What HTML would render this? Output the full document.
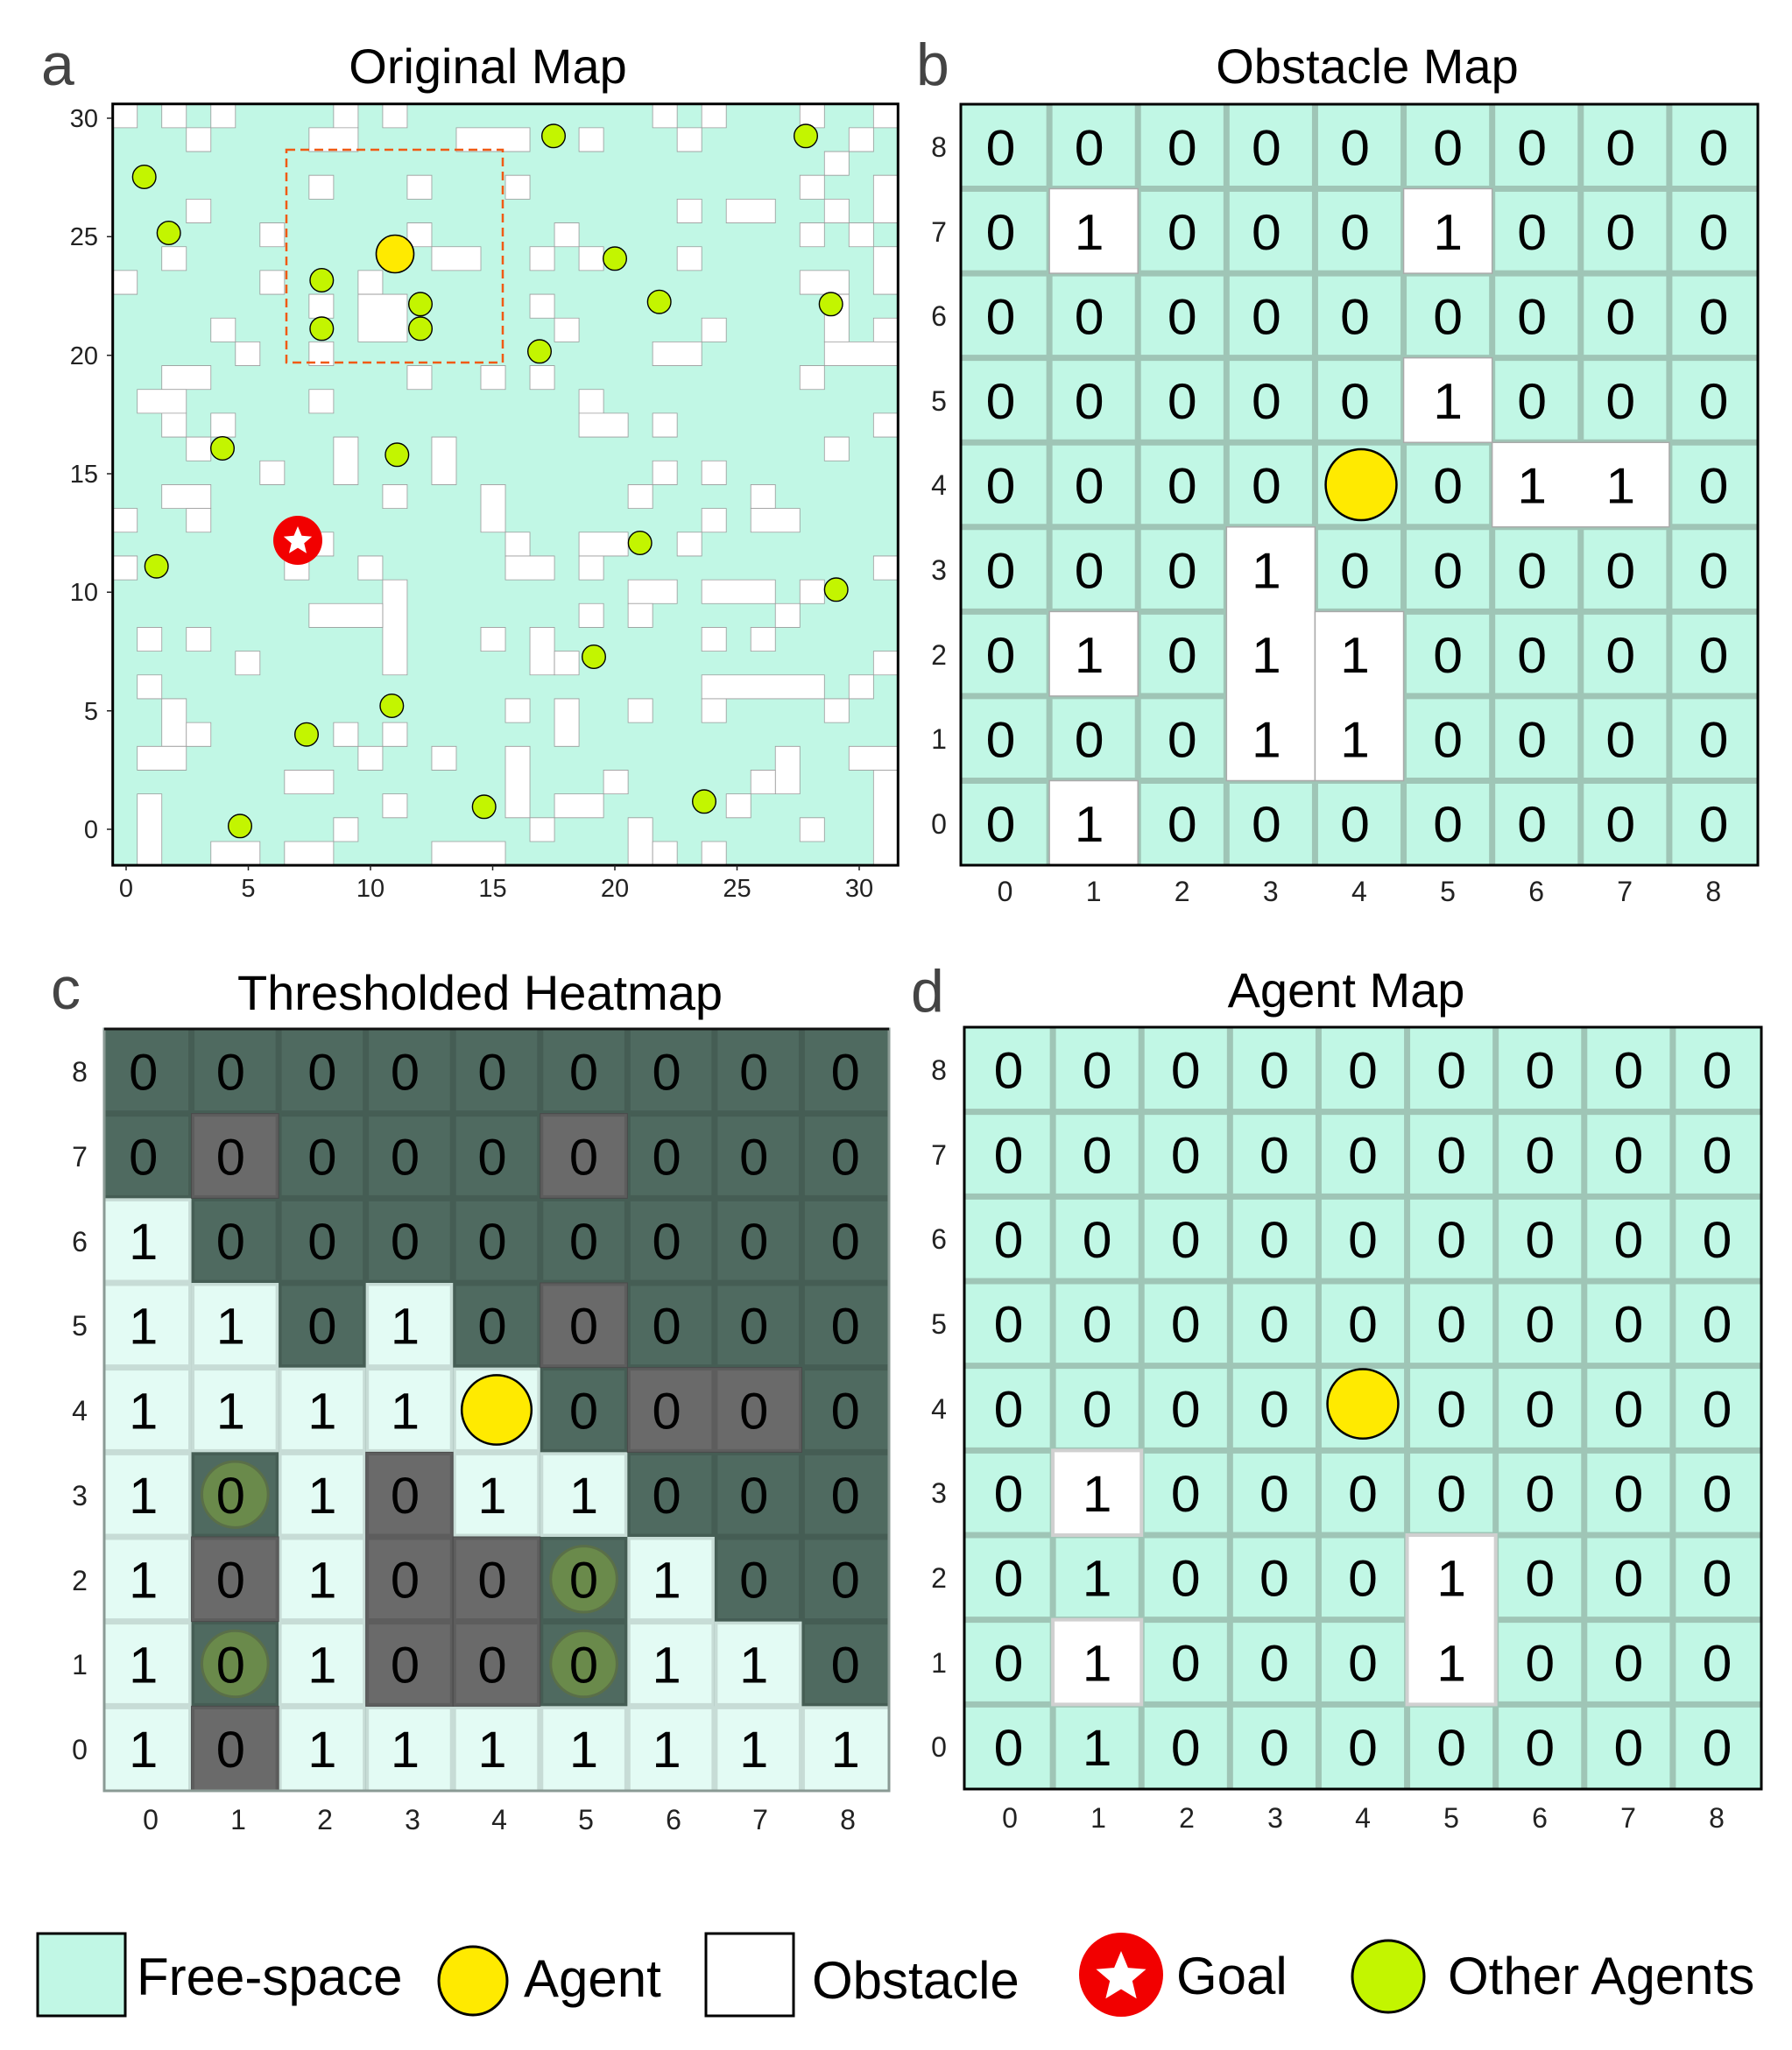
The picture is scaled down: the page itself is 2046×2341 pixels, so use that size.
<!DOCTYPE html>
<html><head><meta charset="utf-8"><style>
html,body{margin:0;padding:0;background:#fff}
svg{display:block}
text{font-family:"Liberation Sans",Arial,sans-serif}
</style></head><body>
<svg width="2046" height="2341" viewBox="0 0 2046 2341" xmlns="http://www.w3.org/2000/svg">
<defs>
<polygon id="star" points="0,-1 0.264,-0.364 0.951,-0.309 0.427,0.139 0.588,0.809 0,0.45 -0.588,0.809 -0.427,0.139 -0.951,-0.309 -0.264,-0.364"/>
</defs>
<rect width="2046" height="2341" fill="#fff"/>

<!-- ===== Panel a ===== -->
<text x="47" y="97" font-size="68" fill="#444">a</text>
<text x="557" y="95" font-size="56" text-anchor="middle" fill="#000">Original Map</text>
<rect x="128.7" y="118.7" width="896.6" height="869.4" fill="#c1f7e5"/>
<g transform="translate(128.7,118.7) scale(28.02,27.17)" fill="#fff" stroke="#9a9a9a" stroke-width="0.8">
<g>
<rect x="0" y="0" width="1" height="1" vector-effect="non-scaling-stroke"/><rect x="2" y="0" width="1" height="1" vector-effect="non-scaling-stroke"/><rect x="4" y="0" width="1" height="1" vector-effect="non-scaling-stroke"/><rect x="9" y="0" width="1" height="1" vector-effect="non-scaling-stroke"/><rect x="11" y="0" width="1" height="1" vector-effect="non-scaling-stroke"/><rect x="22" y="0" width="1" height="1" vector-effect="non-scaling-stroke"/><rect x="24" y="0" width="1" height="1" vector-effect="non-scaling-stroke"/><rect x="28" y="0" width="1" height="1" vector-effect="non-scaling-stroke"/><rect x="31" y="0" width="1" height="1" vector-effect="non-scaling-stroke"/>
<rect x="3" y="1" width="1" height="1" vector-effect="non-scaling-stroke"/><rect x="8" y="1" width="2" height="1" vector-effect="non-scaling-stroke"/><rect x="14" y="1" width="3" height="1" vector-effect="non-scaling-stroke"/><rect x="19" y="1" width="1" height="1" vector-effect="non-scaling-stroke"/><rect x="23" y="1" width="1" height="1" vector-effect="non-scaling-stroke"/><rect x="30" y="1" width="1" height="1" vector-effect="non-scaling-stroke"/>
<rect x="29" y="2" width="1" height="1" vector-effect="non-scaling-stroke"/>
<rect x="8" y="3" width="1" height="1" vector-effect="non-scaling-stroke"/><rect x="12" y="3" width="1" height="1" vector-effect="non-scaling-stroke"/><rect x="16" y="3" width="1" height="1" vector-effect="non-scaling-stroke"/><rect x="28" y="3" width="1" height="1" vector-effect="non-scaling-stroke"/><rect x="31" y="3" width="1" height="2" vector-effect="non-scaling-stroke"/>
<rect x="3" y="4" width="1" height="1" vector-effect="non-scaling-stroke"/><rect x="23" y="4" width="1" height="1" vector-effect="non-scaling-stroke"/><rect x="25" y="4" width="2" height="1" vector-effect="non-scaling-stroke"/><rect x="29" y="4" width="1" height="1" vector-effect="non-scaling-stroke"/>
<rect x="6" y="5" width="1" height="1" vector-effect="non-scaling-stroke"/><rect x="12" y="5" width="1" height="1" vector-effect="non-scaling-stroke"/><rect x="18" y="5" width="1" height="1" vector-effect="non-scaling-stroke"/><rect x="28" y="5" width="1" height="1" vector-effect="non-scaling-stroke"/><rect x="30" y="5" width="1" height="1" vector-effect="non-scaling-stroke"/>
<rect x="2" y="6" width="1" height="1" vector-effect="non-scaling-stroke"/><rect x="13" y="6" width="2" height="1" vector-effect="non-scaling-stroke"/><rect x="17" y="6" width="1" height="1" vector-effect="non-scaling-stroke"/><rect x="19" y="6" width="1" height="1" vector-effect="non-scaling-stroke"/><rect x="23" y="6" width="1" height="1" vector-effect="non-scaling-stroke"/><rect x="31" y="6" width="1" height="2" vector-effect="non-scaling-stroke"/>
<rect x="0" y="7" width="1" height="1" vector-effect="non-scaling-stroke"/><rect x="6" y="7" width="1" height="1" vector-effect="non-scaling-stroke"/><rect x="10" y="7" width="1" height="1" vector-effect="non-scaling-stroke"/><rect x="28" y="7" width="2" height="1" vector-effect="non-scaling-stroke"/>
<rect x="8" y="8" width="1" height="1" vector-effect="non-scaling-stroke"/><rect x="10" y="8" width="2" height="2" vector-effect="non-scaling-stroke"/><rect x="17" y="8" width="1" height="1" vector-effect="non-scaling-stroke"/><rect x="29" y="8" width="1" height="2" vector-effect="non-scaling-stroke"/>
<rect x="4" y="9" width="1" height="1" vector-effect="non-scaling-stroke"/><rect x="18" y="9" width="1" height="1" vector-effect="non-scaling-stroke"/><rect x="24" y="9" width="1" height="1" vector-effect="non-scaling-stroke"/><rect x="31" y="9" width="1" height="1" vector-effect="non-scaling-stroke"/>
<rect x="5" y="10" width="1" height="1" vector-effect="non-scaling-stroke"/><rect x="8" y="10" width="1" height="1" vector-effect="non-scaling-stroke"/><rect x="22" y="10" width="2" height="1" vector-effect="non-scaling-stroke"/><rect x="29" y="10" width="3" height="1" vector-effect="non-scaling-stroke"/>
<rect x="2" y="11" width="2" height="1" vector-effect="non-scaling-stroke"/><rect x="12" y="11" width="1" height="1" vector-effect="non-scaling-stroke"/><rect x="15" y="11" width="1" height="1" vector-effect="non-scaling-stroke"/><rect x="17" y="11" width="1" height="1" vector-effect="non-scaling-stroke"/><rect x="28" y="11" width="1" height="1" vector-effect="non-scaling-stroke"/>
<rect x="1" y="12" width="2" height="1" vector-effect="non-scaling-stroke"/><rect x="8" y="12" width="1" height="1" vector-effect="non-scaling-stroke"/><rect x="19" y="12" width="1" height="1" vector-effect="non-scaling-stroke"/>
<rect x="2" y="13" width="1" height="1" vector-effect="non-scaling-stroke"/><rect x="4" y="13" width="1" height="1" vector-effect="non-scaling-stroke"/><rect x="19" y="13" width="2" height="1" vector-effect="non-scaling-stroke"/><rect x="22" y="13" width="1" height="1" vector-effect="non-scaling-stroke"/><rect x="31" y="13" width="1" height="1" vector-effect="non-scaling-stroke"/>
<rect x="3" y="14" width="1" height="1" vector-effect="non-scaling-stroke"/><rect x="9" y="14" width="1" height="2" vector-effect="non-scaling-stroke"/><rect x="13" y="14" width="1" height="2" vector-effect="non-scaling-stroke"/><rect x="29" y="14" width="1" height="1" vector-effect="non-scaling-stroke"/>
<rect x="6" y="15" width="1" height="1" vector-effect="non-scaling-stroke"/><rect x="22" y="15" width="1" height="1" vector-effect="non-scaling-stroke"/><rect x="24" y="15" width="1" height="1" vector-effect="non-scaling-stroke"/>
<rect x="2" y="16" width="2" height="1" vector-effect="non-scaling-stroke"/><rect x="11" y="16" width="1" height="1" vector-effect="non-scaling-stroke"/><rect x="15" y="16" width="1" height="2" vector-effect="non-scaling-stroke"/><rect x="21" y="16" width="1" height="1" vector-effect="non-scaling-stroke"/><rect x="26" y="16" width="1" height="1" vector-effect="non-scaling-stroke"/>
<rect x="0" y="17" width="1" height="1" vector-effect="non-scaling-stroke"/><rect x="3" y="17" width="1" height="1" vector-effect="non-scaling-stroke"/><rect x="24" y="17" width="1" height="1" vector-effect="non-scaling-stroke"/><rect x="26" y="17" width="2" height="1" vector-effect="non-scaling-stroke"/>
<rect x="8" y="18" width="1" height="1" vector-effect="non-scaling-stroke"/><rect x="16" y="18" width="1" height="1" vector-effect="non-scaling-stroke"/><rect x="19" y="18" width="2" height="1" vector-effect="non-scaling-stroke"/><rect x="23" y="18" width="1" height="1" vector-effect="non-scaling-stroke"/>
<rect x="0" y="19" width="1" height="1" vector-effect="non-scaling-stroke"/><rect x="7" y="19" width="1" height="1" vector-effect="non-scaling-stroke"/><rect x="10" y="19" width="1" height="1" vector-effect="non-scaling-stroke"/><rect x="16" y="19" width="2" height="1" vector-effect="non-scaling-stroke"/><rect x="19" y="19" width="1" height="1" vector-effect="non-scaling-stroke"/><rect x="31" y="19" width="1" height="1" vector-effect="non-scaling-stroke"/>
<rect x="11" y="20" width="1" height="4" vector-effect="non-scaling-stroke"/><rect x="21" y="20" width="2" height="1" vector-effect="non-scaling-stroke"/><rect x="24" y="20" width="3" height="1" vector-effect="non-scaling-stroke"/><rect x="28" y="20" width="1" height="1" vector-effect="non-scaling-stroke"/>
<rect x="8" y="21" width="3" height="1" vector-effect="non-scaling-stroke"/><rect x="19" y="21" width="1" height="1" vector-effect="non-scaling-stroke"/><rect x="21" y="21" width="1" height="1" vector-effect="non-scaling-stroke"/><rect x="27" y="21" width="1" height="1" vector-effect="non-scaling-stroke"/>
<rect x="1" y="22" width="1" height="1" vector-effect="non-scaling-stroke"/><rect x="3" y="22" width="1" height="1" vector-effect="non-scaling-stroke"/><rect x="15" y="22" width="1" height="1" vector-effect="non-scaling-stroke"/><rect x="17" y="22" width="1" height="2" vector-effect="non-scaling-stroke"/><rect x="24" y="22" width="1" height="1" vector-effect="non-scaling-stroke"/><rect x="26" y="22" width="1" height="1" vector-effect="non-scaling-stroke"/>
<rect x="5" y="23" width="1" height="1" vector-effect="non-scaling-stroke"/><rect x="18" y="23" width="1" height="1" vector-effect="non-scaling-stroke"/><rect x="31" y="23" width="1" height="1" vector-effect="non-scaling-stroke"/>
<rect x="1" y="24" width="1" height="1" vector-effect="non-scaling-stroke"/><rect x="24" y="24" width="5" height="1" vector-effect="non-scaling-stroke"/><rect x="30" y="24" width="1" height="1" vector-effect="non-scaling-stroke"/>
<rect x="2" y="25" width="1" height="2" vector-effect="non-scaling-stroke"/><rect x="16" y="25" width="1" height="1" vector-effect="non-scaling-stroke"/><rect x="18" y="25" width="1" height="2" vector-effect="non-scaling-stroke"/><rect x="21" y="25" width="1" height="1" vector-effect="non-scaling-stroke"/><rect x="24" y="25" width="1" height="1" vector-effect="non-scaling-stroke"/><rect x="29" y="25" width="1" height="1" vector-effect="non-scaling-stroke"/>
<rect x="3" y="26" width="1" height="1" vector-effect="non-scaling-stroke"/><rect x="9" y="26" width="1" height="1" vector-effect="non-scaling-stroke"/><rect x="11" y="26" width="1" height="1" vector-effect="non-scaling-stroke"/>
<rect x="1" y="27" width="2" height="1" vector-effect="non-scaling-stroke"/><rect x="10" y="27" width="1" height="1" vector-effect="non-scaling-stroke"/><rect x="13" y="27" width="1" height="1" vector-effect="non-scaling-stroke"/><rect x="16" y="27" width="1" height="3" vector-effect="non-scaling-stroke"/><rect x="27" y="27" width="1" height="2" vector-effect="non-scaling-stroke"/><rect x="30" y="27" width="2" height="1" vector-effect="non-scaling-stroke"/>
<rect x="7" y="28" width="2" height="1" vector-effect="non-scaling-stroke"/><rect x="20" y="28" width="1" height="1" vector-effect="non-scaling-stroke"/><rect x="26" y="28" width="1" height="1" vector-effect="non-scaling-stroke"/><rect x="31" y="28" width="1" height="4" vector-effect="non-scaling-stroke"/>
<rect x="1" y="29" width="1" height="3" vector-effect="non-scaling-stroke"/><rect x="11" y="29" width="1" height="1" vector-effect="non-scaling-stroke"/><rect x="18" y="29" width="2" height="1" vector-effect="non-scaling-stroke"/><rect x="25" y="29" width="1" height="1" vector-effect="non-scaling-stroke"/>
<rect x="9" y="30" width="1" height="1" vector-effect="non-scaling-stroke"/><rect x="17" y="30" width="1" height="1" vector-effect="non-scaling-stroke"/><rect x="21" y="30" width="1" height="2" vector-effect="non-scaling-stroke"/><rect x="28" y="30" width="1" height="1" vector-effect="non-scaling-stroke"/>
<rect x="4" y="31" width="2" height="1" vector-effect="non-scaling-stroke"/><rect x="7" y="31" width="2" height="1" vector-effect="non-scaling-stroke"/><rect x="13" y="31" width="3" height="1" vector-effect="non-scaling-stroke"/><rect x="22" y="31" width="1" height="1" vector-effect="non-scaling-stroke"/><rect x="24" y="31" width="1" height="1" vector-effect="non-scaling-stroke"/>
</g></g>
<rect x="327" y="171" width="247" height="243" fill="none" stroke="#f05a14" stroke-width="2.5" stroke-dasharray="10,6"/>
<g fill="#c3f500" stroke="#000" stroke-width="1.4">
<circle cx="164.7" cy="202" r="13.3"/><circle cx="192.7" cy="266" r="13.3"/><circle cx="367.3" cy="320" r="13.3"/><circle cx="367.3" cy="375.3" r="13.3"/><circle cx="480" cy="347.3" r="13.3"/><circle cx="480" cy="375.3" r="13.3"/><circle cx="632" cy="155.3" r="13.3"/><circle cx="920" cy="155.3" r="13.3"/><circle cx="702" cy="295.3" r="13.3"/><circle cx="752.7" cy="344.7" r="13.3"/><circle cx="948.7" cy="347.3" r="13.3"/><circle cx="616" cy="401.3" r="13.3"/><circle cx="254" cy="512" r="13.3"/><circle cx="453.3" cy="519.3" r="13.3"/><circle cx="178.7" cy="646.7" r="13.3"/><circle cx="730.7" cy="620" r="13.3"/><circle cx="954.7" cy="673.3" r="13.3"/><circle cx="678" cy="750" r="13.3"/><circle cx="447.3" cy="806" r="13.3"/><circle cx="350" cy="838.7" r="13.3"/><circle cx="552.7" cy="921.3" r="13.3"/><circle cx="804" cy="915.3" r="13.3"/><circle cx="274" cy="943.3" r="13.3"/>
</g>
<circle cx="451" cy="290" r="21.5" fill="#ffea00" stroke="#000" stroke-width="1.6"/>
<circle cx="340" cy="617" r="28" fill="#f20000"/>
<use href="#star" transform="translate(340,618) scale(17)" fill="#fff"/>
<rect x="128.7" y="118.7" width="896.6" height="869.4" fill="none" stroke="#000" stroke-width="3"/>
<g font-size="29" fill="#222" text-anchor="middle">
<text x="144" y="1024">0</text><text x="283.5" y="1024">5</text><text x="423" y="1024">10</text><text x="562.5" y="1024">15</text><text x="702" y="1024">20</text><text x="841.5" y="1024">25</text><text x="981" y="1024">30</text>
</g>
<g font-size="29" fill="#222" text-anchor="end">
<text x="112" y="145">30</text><text x="112" y="280">25</text><text x="112" y="416">20</text><text x="112" y="551">15</text><text x="112" y="686">10</text><text x="112" y="822">5</text><text x="112" y="957">0</text>
</g>
<g stroke="#222" stroke-width="1.5">
<path d="M144 988v6M283.5 988v6M423 988v6M562.5 988v6M702 988v6M841.5 988v6M981 988v6M122 135h6M122 270.3h6M122 405.7h6M122 541h6M122 676.3h6M122 811.7h6M122 947h6"/>
</g>

<!-- ===== Panel b ===== -->
<text x="1046" y="97" font-size="68" fill="#444">b</text>
<text x="1561" y="95" font-size="56" text-anchor="middle" fill="#000">Obstacle Map</text>
<svg x="1097" y="119" width="910" height="869" viewBox="0 0 9 9" preserveAspectRatio="none" overflow="visible">
<rect width="9" height="9" fill="#c1f7e5"/>
<g stroke="#9fc5b6" stroke-width="7">
<path vector-effect="non-scaling-stroke" d="M1 0V9M2 0V9M3 0V9M4 0V9M5 0V9M6 0V9M7 0V9M8 0V9M0 1H9M0 2H9M0 3H9M0 4H9M0 5H9M0 6H9M0 7H9M0 8H9"/>
</g>
<g fill="#fff" stroke="#aaa" stroke-width="1.5">
<rect x="1" y="1" width="1" height="1" vector-effect="non-scaling-stroke"/><rect x="5" y="1" width="1" height="1" vector-effect="non-scaling-stroke"/><rect x="5" y="3" width="1" height="1" vector-effect="non-scaling-stroke"/><rect x="6" y="4" width="2" height="1" vector-effect="non-scaling-stroke"/><rect x="3" y="5" width="1" height="3" vector-effect="non-scaling-stroke"/><rect x="4" y="6" width="1" height="2" vector-effect="non-scaling-stroke"/><rect x="1" y="6" width="1" height="1" vector-effect="non-scaling-stroke"/><rect x="1" y="8" width="1" height="1" vector-effect="non-scaling-stroke"/>
</g>
<ellipse cx="4.52" cy="4.5" rx="0.4" ry="0.42" fill="#ffea00" stroke="#000" stroke-width="2.5" vector-effect="non-scaling-stroke"/>
<g font-size="0.6" fill="#000" text-anchor="middle">
<text x="0.45 1.45 2.5 3.45 4.45 5.5 6.45 7.45 8.5" y="0.72">000000000</text>
<text x="0.45 1.45 2.5 3.45 4.45 5.5 6.45 7.45 8.5" y="1.72">010001000</text>
<text x="0.45 1.45 2.5 3.45 4.45 5.5 6.45 7.45 8.5" y="2.72">000000000</text>
<text x="0.45 1.45 2.5 3.45 4.45 5.5 6.45 7.45 8.5" y="3.72">000001000</text>
<text x="0.45 1.45 2.5 3.45 5.5 6.45 7.45 8.5" y="4.72">00000110</text>
<text x="0.45 1.45 2.5 3.45 4.45 5.5 6.45 7.45 8.5" y="5.72">000100000</text>
<text x="0.45 1.45 2.5 3.45 4.45 5.5 6.45 7.45 8.5" y="6.72">010110000</text>
<text x="0.45 1.45 2.5 3.45 4.45 5.5 6.45 7.45 8.5" y="7.72">000110000</text>
<text x="0.45 1.45 2.5 3.45 4.45 5.5 6.45 7.45 8.5" y="8.72">010000000</text>
</g>
<rect width="9" height="9" fill="none" stroke="#000" stroke-width="3" vector-effect="non-scaling-stroke"/>
</svg>
<g font-size="32" fill="#222" text-anchor="middle">
<text x="1147.5" y="1029">0</text><text x="1248.6" y="1029">1</text><text x="1349.7" y="1029">2</text><text x="1450.8" y="1029">3</text><text x="1551.9" y="1029">4</text><text x="1653" y="1029">5</text><text x="1754.1" y="1029">6</text><text x="1855.2" y="1029">7</text><text x="1956.3" y="1029">8</text>
<text x="1072" y="179">8</text><text x="1072" y="276">7</text><text x="1072" y="372">6</text><text x="1072" y="469">5</text><text x="1072" y="565">4</text><text x="1072" y="662">3</text><text x="1072" y="759">2</text><text x="1072" y="855">1</text><text x="1072" y="952">0</text>
</g>

<!-- ===== Panel c ===== -->
<text x="58" y="1152" font-size="68" fill="#444">c</text>
<text x="548" y="1153" font-size="56" text-anchor="middle" fill="#000">Thresholded Heatmap</text>
<svg x="119" y="1175" width="896" height="870" viewBox="0 0 9 9" preserveAspectRatio="none" overflow="visible">
<rect width="9" height="9" fill="#4f6a60"/>
<g fill="#e3fbf4">
<rect x="0" y="2" width="1" height="7"/><rect x="1" y="3" width="1" height="2"/><rect x="3" y="3" width="1" height="2"/><rect x="2" y="4" width="1" height="5"/><rect x="4" y="4" width="1" height="2"/><rect x="5" y="5" width="1" height="1"/><rect x="6" y="6" width="1" height="3"/><rect x="7" y="7" width="1" height="2"/><rect x="3" y="8" width="5" height="1"/><rect x="8" y="8" width="1" height="1"/>
</g>
<g fill="#6a6a6a" stroke="#555" stroke-width="1" >
<rect x="1" y="1" width="1" height="1" vector-effect="non-scaling-stroke"/><rect x="5" y="1" width="1" height="1" vector-effect="non-scaling-stroke"/><rect x="5" y="3" width="1" height="1" vector-effect="non-scaling-stroke"/><rect x="6" y="4" width="2" height="1" vector-effect="non-scaling-stroke"/><rect x="3" y="5" width="1" height="3" vector-effect="non-scaling-stroke"/><rect x="4" y="6" width="1" height="2" vector-effect="non-scaling-stroke"/><rect x="1" y="6" width="1" height="1" vector-effect="non-scaling-stroke"/><rect x="1" y="8" width="1" height="1" vector-effect="non-scaling-stroke"/>
</g>
<g stroke="rgba(0,0,0,0.12)" stroke-width="7">
<path vector-effect="non-scaling-stroke" d="M1 0V9M2 0V9M3 0V9M4 0V9M5 0V9M6 0V9M7 0V9M8 0V9M0 1H9M0 2H9M0 3H9M0 4H9M0 5H9M0 6H9M0 7H9M0 8H9"/>
</g>
<g fill="#6a8a4b" stroke="#5a6f48" stroke-width="3">
<ellipse cx="1.5" cy="5.5" rx="0.38" ry="0.39" vector-effect="non-scaling-stroke"/><ellipse cx="5.5" cy="6.5" rx="0.38" ry="0.39" vector-effect="non-scaling-stroke"/><ellipse cx="1.5" cy="7.5" rx="0.38" ry="0.39" vector-effect="non-scaling-stroke"/><ellipse cx="5.5" cy="7.5" rx="0.38" ry="0.39" vector-effect="non-scaling-stroke"/>
</g>
<ellipse cx="4.5" cy="4.5" rx="0.4" ry="0.41" fill="#ffea00" stroke="#000" stroke-width="2.5" vector-effect="non-scaling-stroke"/>
<g font-size="0.6" fill="#000" text-anchor="middle">
<text x="0.45 1.45 2.5 3.45 4.45 5.5 6.45 7.45 8.5" y="0.72">000000000</text>
<text x="0.45 1.45 2.5 3.45 4.45 5.5 6.45 7.45 8.5" y="1.72">000000000</text>
<text x="0.45 1.45 2.5 3.45 4.45 5.5 6.45 7.45 8.5" y="2.72">100000000</text>
<text x="0.45 1.45 2.5 3.45 4.45 5.5 6.45 7.45 8.5" y="3.72">110100000</text>
<text x="0.45 1.45 2.5 3.45 5.5 6.45 7.45 8.5" y="4.72">11110000</text>
<text x="0.45 1.45 2.5 3.45 4.45 5.5 6.45 7.45 8.5" y="5.72">101011000</text>
<text x="0.45 1.45 2.5 3.45 4.45 5.5 6.45 7.45 8.5" y="6.72">101000100</text>
<text x="0.45 1.45 2.5 3.45 4.45 5.5 6.45 7.45 8.5" y="7.72">101000110</text>
<text x="0.45 1.45 2.5 3.45 4.45 5.5 6.45 7.45 8.5" y="8.72">101111111</text>
</g>
<rect width="9" height="9" fill="none" stroke="#8a9a94" stroke-width="3" vector-effect="non-scaling-stroke"/>
<path d="M0 0H9" stroke="#111" stroke-width="3" vector-effect="non-scaling-stroke"/>
</svg>
<g font-size="32" fill="#222" text-anchor="middle">
<text x="172" y="2089">0</text><text x="272" y="2089">1</text><text x="371" y="2089">2</text><text x="471" y="2089">3</text><text x="570" y="2089">4</text><text x="669" y="2089">5</text><text x="769" y="2089">6</text><text x="868" y="2089">7</text><text x="968" y="2089">8</text>
<text x="91" y="1235">8</text><text x="91" y="1332">7</text><text x="91" y="1429">6</text><text x="91" y="1525">5</text><text x="91" y="1622">4</text><text x="91" y="1719">3</text><text x="91" y="1816">2</text><text x="91" y="1912">1</text><text x="91" y="2009">0</text>
</g>

<!-- ===== Panel d ===== -->
<text x="1040" y="1155" font-size="68" fill="#444">d</text>
<text x="1537" y="1150" font-size="56" text-anchor="middle" fill="#000">Agent  Map</text>
<svg x="1101" y="1173" width="910" height="870" viewBox="0 0 9 9" preserveAspectRatio="none" overflow="visible">
<rect width="9" height="9" fill="#c1f7e5"/>
<g stroke="#9fc5b6" stroke-width="7">
<path vector-effect="non-scaling-stroke" d="M1 0V9M2 0V9M3 0V9M4 0V9M5 0V9M6 0V9M7 0V9M8 0V9M0 1H9M0 2H9M0 3H9M0 4H9M0 5H9M0 6H9M0 7H9M0 8H9"/>
</g>
<g fill="#fff" stroke="#d0d0d0" stroke-width="4">
<rect x="1" y="5" width="1" height="1" vector-effect="non-scaling-stroke"/><rect x="5" y="6" width="1" height="2" vector-effect="non-scaling-stroke"/><rect x="1" y="7" width="1" height="1" vector-effect="non-scaling-stroke"/>
</g>
<ellipse cx="4.5" cy="4.45" rx="0.4" ry="0.41" fill="#ffea00" stroke="#000" stroke-width="2.5" vector-effect="non-scaling-stroke"/>
<g font-size="0.6" fill="#000" text-anchor="middle">
<text x="0.5 1.5 2.5 3.5 4.5 5.5 6.5 7.5 8.5" y="0.72">000000000</text>
<text x="0.5 1.5 2.5 3.5 4.5 5.5 6.5 7.5 8.5" y="1.72">000000000</text>
<text x="0.5 1.5 2.5 3.5 4.5 5.5 6.5 7.5 8.5" y="2.72">000000000</text>
<text x="0.5 1.5 2.5 3.5 4.5 5.5 6.5 7.5 8.5" y="3.72">000000000</text>
<text x="0.5 1.5 2.5 3.5 5.5 6.5 7.5 8.5" y="4.72">00000000</text>
<text x="0.5 1.5 2.5 3.5 4.5 5.5 6.5 7.5 8.5" y="5.72">010000000</text>
<text x="0.5 1.5 2.5 3.5 4.5 5.5 6.5 7.5 8.5" y="6.72">010001000</text>
<text x="0.5 1.5 2.5 3.5 4.5 5.5 6.5 7.5 8.5" y="7.72">010001000</text>
<text x="0.5 1.5 2.5 3.5 4.5 5.5 6.5 7.5 8.5" y="8.72">010000000</text>
</g>
<rect width="9" height="9" fill="none" stroke="#000" stroke-width="3" vector-effect="non-scaling-stroke"/>
</svg>
<g font-size="32" fill="#222" text-anchor="middle">
<text x="1153" y="2087">0</text><text x="1254" y="2087">1</text><text x="1355" y="2087">2</text><text x="1456" y="2087">3</text><text x="1556" y="2087">4</text><text x="1657" y="2087">5</text><text x="1758" y="2087">6</text><text x="1859" y="2087">7</text><text x="1960" y="2087">8</text>
<text x="1072" y="1233">8</text><text x="1072" y="1330">7</text><text x="1072" y="1426">6</text><text x="1072" y="1523">5</text><text x="1072" y="1620">4</text><text x="1072" y="1716">3</text><text x="1072" y="1813">2</text><text x="1072" y="1910">1</text><text x="1072" y="2006">0</text>
</g>

<!-- ===== Legend ===== -->
<rect x="43" y="2208" width="100" height="94" fill="#c1f7e5" stroke="#000" stroke-width="3"/>
<text x="156" y="2278" font-size="60" fill="#000">Free-space</text>
<circle cx="540" cy="2262" r="39" fill="#ffea00" stroke="#000" stroke-width="3"/>
<text x="598" y="2280" font-size="60" fill="#000">Agent</text>
<rect x="806" y="2208" width="100" height="94" fill="#fff" stroke="#000" stroke-width="3"/>
<text x="927" y="2282" font-size="60" fill="#000">Obstacle</text>
<circle cx="1280" cy="2255" r="48" fill="#f20000"/>
<use href="#star" transform="translate(1280,2258) scale(30)" fill="#fff"/>
<text x="1343" y="2277" font-size="60" fill="#000">Goal</text>
<circle cx="1585" cy="2257" r="41" fill="#c3f500" stroke="#000" stroke-width="3"/>
<text x="1653" y="2277" font-size="60" fill="#000">Other Agents</text>
</svg>
</body></html>
